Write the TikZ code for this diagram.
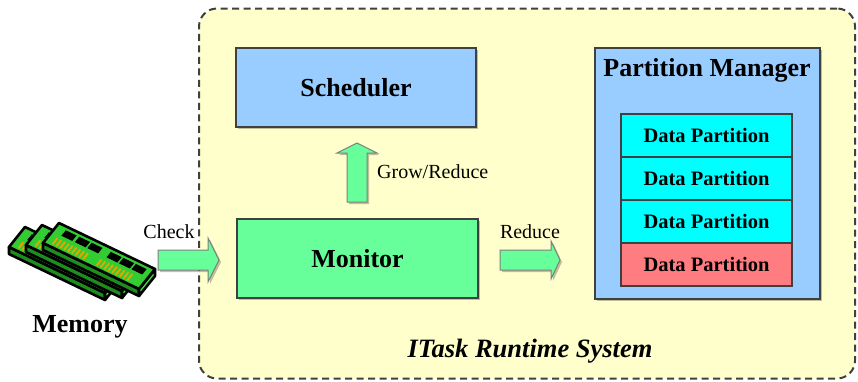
\documentclass[tikz,border=0pt]{standalone}
\usepackage{fontspec}
\setmainfont{Liberation Serif}
\usetikzlibrary{calc,shadows}

\definecolor{bgyellow}{HTML}{FFFFCC}
\definecolor{schedblue}{HTML}{99CCFF}
\definecolor{mongreen}{HTML}{66FF99}
\definecolor{partcyan}{HTML}{00FFFF}
\definecolor{partred}{HTML}{FF7C80}
\definecolor{edgegray}{HTML}{404040}
\definecolor{arrowedge}{HTML}{7F7F7F}
\definecolor{ramgreen}{HTML}{33CC33}
\definecolor{ramlight}{HTML}{44DD44}
\definecolor{ramdark}{HTML}{1E8C1E}
\definecolor{ramgold}{HTML}{E0A800}

\tikzset{
  softshadow/.style={drop shadow={shadow xshift=2pt,shadow yshift=-2pt,opacity=0.25,fill=black}},
  compbox/.style={draw=edgegray,line width=2pt,inner sep=0pt,softshadow},
  partbox/.style={draw=edgegray,line width=1.6pt,inner sep=0pt,minimum width=171pt,minimum height=43pt,
    font=\fontsize{20.5}{24}\selectfont\bfseries},
  blockarrow/.style={draw=arrowedge,fill=mongreen,line width=1pt,line join=miter,softshadow},
  lbl/.style={font=\fontsize{20}{24}\selectfont,inner sep=0pt},
  ramstick/.pic={
    % lower edge of the board
    \filldraw[fill=ramdark,draw=black,line width=2.6pt,line join=round]
      (0,20) -- (96,66) -- (96,73) -- (0,27) -- cycle;
    % end of the board
    \filldraw[fill=ramlight,draw=black,line width=2.6pt,line join=round]
      (96,66) -- (112,46) -- (112,53) -- (96,73) -- cycle;
    % board face
    \filldraw[fill=ramgreen,draw=black,line width=2.6pt,line join=round]
      (0,20) -- (16,0) -- (112,46) -- (96,66) -- cycle;
    % gold contacts
    \foreach \t in {0.08,0.12,...,0.42,0.54,0.58,...,0.88}
      \draw[ramgold,line width=1.9pt] ({96*\t+1.8},{20+46*\t-2.3}) -- ++(4.9,-6.1);
    % memory chips
    \foreach \t in {0.15,0.29,0.42,0.62,0.75,0.88}
      \fill[black] ({16+96*\t-7.6},{46*\t+0.4}) -- ++(10.8,5.2) -- ++(-4.4,5.4) -- ++(-10.8,-5.2) -- cycle;
  }
}

\begin{document}
\begin{tikzpicture}[x=1pt,y=-1pt]
\useasboundingbox (0,0) rectangle (858,381);

% runtime system frame
\node[draw=edgegray,fill=bgyellow,line width=2pt,dash pattern=on 7pt off 4.5pt,
      rounded corners=18pt,minimum width=656pt,minimum height=370pt,inner sep=0pt]
  (rts) at (527,193.5) {};
\node[font=\fontsize{26.5}{30}\selectfont\bfseries\itshape,inner sep=0pt] (rtstitle) at (530,351) {ITask Runtime System};

% components
\node[compbox,fill=schedblue,minimum width=240pt,minimum height=79pt,
      font=\fontsize{26}{30}\selectfont\bfseries] (sched) at (356,87.5) {Scheduler};
\node[compbox,fill=mongreen,minimum width=241pt,minimum height=79pt,
      font=\fontsize{26}{30}\selectfont\bfseries] (mon) at (357.5,258.5) {Monitor};
\node[compbox,fill=schedblue,minimum width=225pt,minimum height=251pt] (pm) at (707.5,173.5) {};
\node[font=\fontsize{26}{30}\selectfont\bfseries,inner sep=0pt] (pmtitle) at (707,70) {Partition Manager};

% data partitions
\node[partbox,fill=partcyan] (dp1) at (706.5,135.5) {Data Partition};
\node[partbox,fill=partcyan] (dp2) at (706.5,178.5) {Data Partition};
\node[partbox,fill=partcyan] (dp3) at (706.5,221.5) {Data Partition};
\node[partbox,fill=partred] (dp4) at (706.5,264.5) {Data Partition};

% memory modules
\pic at (9,227) {ramstick};
\pic at (26,225) {ramstick};
\pic at (43,223) {ramstick};
\node[font=\fontsize{26}{30}\selectfont\bfseries,inner sep=0pt] (mem) at (80,327) {Memory};

% block arrows
\coordinate (chk) at ($(mon.west)+(-78,1.5)$);
\draw[blockarrow] (chk) ++(0,-10) -- ++(50,0) -- ++(0,-12) -- ++(11,22) -- ++(-11,22) -- ++(0,-12) -- ++(-50,0) -- cycle;
\node[lbl] (chklbl) at (169,232) {Check};

\coordinate (red) at ($(mon.east)+(21,1.5)$);
\draw[blockarrow] (red) ++(0,-10) -- ++(51,0) -- ++(0,-9) -- ++(9,19) -- ++(-9,19) -- ++(0,-9) -- ++(-51,0) -- cycle;
\node[lbl] (redlbl) at (530,232) {Reduce};

\coordinate (grow) at ($(mon.north)+(-0.5,-16)$);
\draw[blockarrow] (grow) ++(-10,0) -- ++(0,-49) -- ++(-10,0) -- ++(20,-10) -- ++(20,10) -- ++(-10,0) -- ++(0,49) -- cycle;
\node[lbl,anchor=west] (growlbl) at (377,172) {Grow/Reduce};

\end{tikzpicture}
\end{document}
